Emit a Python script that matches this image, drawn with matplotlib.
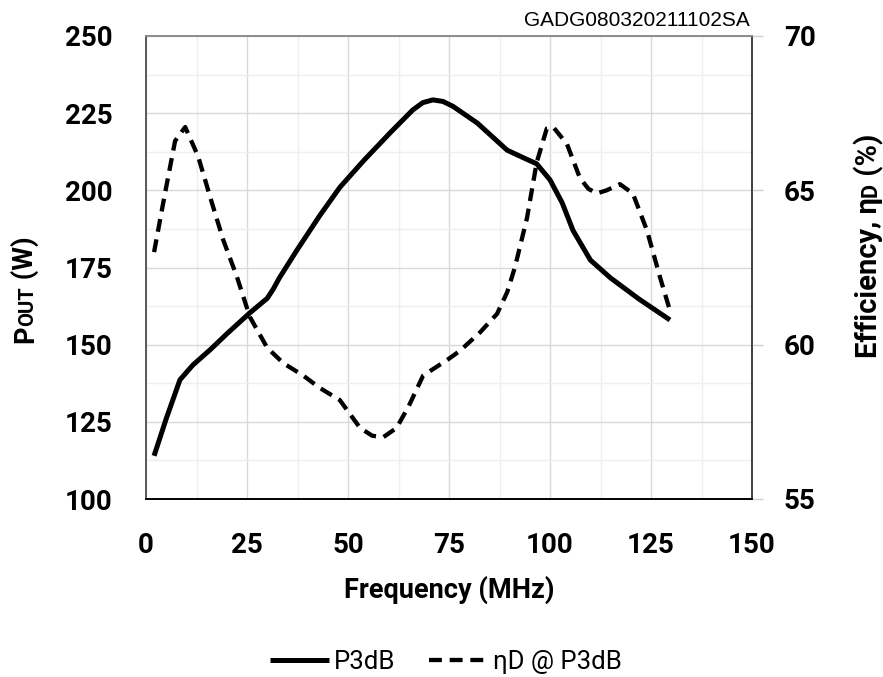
import matplotlib
matplotlib.use("Agg")
import matplotlib.pyplot as plt
from matplotlib.ticker import MultipleLocator

# ---- data ----
freq_p = [2, 5, 8.4, 11.6, 16, 20, 25.7, 30, 31.5, 33, 37.4, 43, 48, 54, 60.4, 66,
          68.5, 71, 73.5, 76, 82, 89.4, 94, 96.7, 100, 103, 105.7, 110, 115, 122, 129.7]
pout = [114, 126, 138.6, 143.4, 148.5, 153.5, 160.3, 165, 168, 171.6, 180.7, 191.8,
        201, 209.8, 218.6, 226.0, 228.4, 229.3, 228.8, 227.2, 221.8, 213, 210.2, 208.6,
        203.4, 196, 187, 177.4, 171.6, 164.8, 158]

freq_e = [2, 4.7, 7.2, 9.7, 12.9, 16.3, 19.1, 22.5, 25.7, 30, 34, 38.9, 43, 48, 53,
          56, 58.7, 62, 65, 68.6, 74.5, 77.7, 82.7, 86.9, 89.4, 91.3, 94.3, 96.7, 99.2,
          100.8, 104.2, 107.4, 109.5, 111.6, 114, 117.3, 120.5, 124, 127.2, 129.7]
eff = [63.0, 64.9, 66.6, 67.05, 66.1, 64.6, 63.4, 62.2, 60.9, 59.9, 59.4, 59.0, 58.6,
       58.2, 57.3, 57.05, 57.0, 57.3, 58.0, 59.0, 59.5, 59.8, 60.4, 61.0, 61.7, 62.5,
       64.1, 65.9, 67.0, 67.05, 66.5, 65.4, 65.05, 64.9, 65.0, 65.2, 64.9, 63.7, 62.2,
       61.1]

x_ticks = [0, 25, 50, 75, 100, 125, 150]
y_left_ticks = [100, 125, 150, 175, 200, 225, 250]
y_right_ticks = [55, 60, 65, 70]

FONT = "Roboto"
plt.rcParams['font.family'] = [FONT, 'DejaVu Sans']

W, H = 883, 677
fig = plt.figure(figsize=(W / 100, H / 100), dpi=100)
ax = fig.add_axes([146 / W, 1 - 499 / H, (752 - 146) / W, (499 - 36) / H])
ax2 = ax.twinx()

ax.set_xlim(0, 150)
ax.set_ylim(100, 250)
ax2.set_ylim(55, 70)

ax.xaxis.set_minor_locator(MultipleLocator(12.5))
ax.yaxis.set_minor_locator(MultipleLocator(12.5))
ax.set_xticks(x_ticks)
ax.set_yticks(y_left_ticks)
ax2.set_yticks(y_right_ticks)

ax.grid(which='major', color='#d9d9d9', lw=1.0)
ax.grid(which='minor', color='#efefef', lw=1.0)
ax.set_axisbelow(True)

ax.tick_params(axis='both', which='both', length=0)
ax.tick_params(axis='x', pad=24, labelsize=20)
ax.tick_params(axis='y', pad=24, labelsize=20)
ax2.tick_params(axis='y', which='major', length=8, width=1, color='#d0d0d0',
                direction='out', pad=15, labelsize=20)
ax.set_xticklabels([str(v) for v in x_ticks], fontweight='bold')
ax.set_yticklabels([str(v) for v in y_left_ticks], fontweight='bold')
ax2.set_yticklabels([str(v) for v in y_right_ticks], fontweight='bold')

for a in (ax, ax2):
    a.spines['left'].set_color('#595959')
    a.spines['bottom'].set_color('#000000')
    a.spines['right'].set_color('#404040')
    a.spines['top'].set_color('#8c8c8c')
    for s in a.spines.values():
        s.set_linewidth(1.2)

l1, = ax.plot(freq_p, pout, color='black', lw=3.6, solid_joinstyle='round',
              solid_capstyle='butt', label='P3dB')
l2, = ax2.plot(freq_e, eff, color='black', lw=3.1, dashes=(3.0, 1.8),
               dash_joinstyle='round', label='ηD @ P3dB')

ax.set_xlabel('Frequency (MHz)', fontsize=19.5, fontweight='bold', labelpad=12)

# top-right ID text
fig.text(750 / W, 1 - 20 / H, 'GADG080320211102SA', ha='right', va='center',
         fontsize=15, family='Liberation Sans')

fig.canvas.draw()
renderer = fig.canvas.get_renderer()


def rotated_label(parts, x_base_px, yc_px):
    texts = []
    for s, size in parts:
        t = fig.text(0, 0, s, rotation=90, fontsize=size, fontweight='bold',
                     ha='left', va='baseline', rotation_mode='anchor',
                     transform=None)
        texts.append(t)
    heights = [t.get_window_extent(renderer).height for t in texts]
    total = sum(heights)
    y = yc_px - total / 2
    for t, h in zip(texts, heights):
        t.set_position((x_base_px, y))
        y += h
    return texts


rotated_label([('P', 19.5), ('OUT', 14.5), (' (W)', 19.5)], 33, H - 290)
rotated_label([('Efficiency, η', 21), ('D', 15.5), (' (%)', 21)], 877, H - 246)

leg = fig.legend([l1, l2], ['P3dB', 'ηD @ P3dB'], loc='center',
                 bbox_to_anchor=(446 / W, 1 - 662 / H), ncol=2, frameon=False,
                 fontsize=18.5, handlelength=2.3, handletextpad=0.2,
                 columnspacing=1.3)

fig.savefig('out.png', dpi=100)
